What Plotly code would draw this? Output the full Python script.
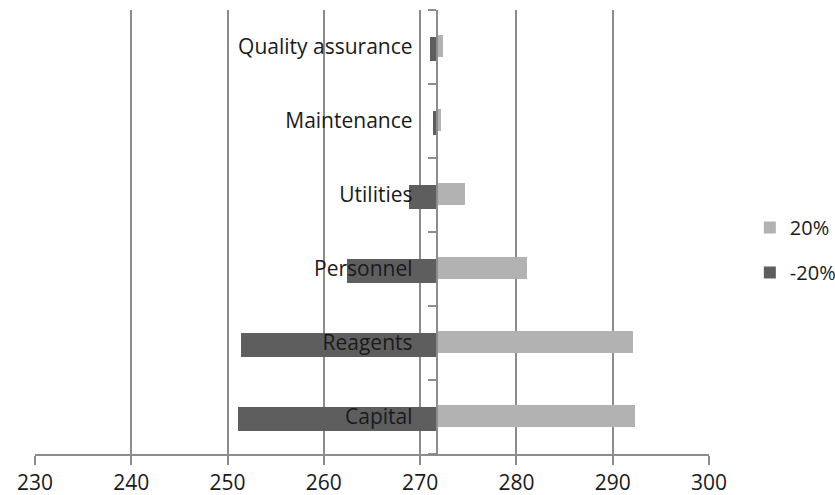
import plotly.graph_objects as go

# Sensitivity of cost to a +/-20% change in each input
categories = ["Capital", "Reagents", "Personnel", "Utilities", "Maintenance", "Quality assurance"]
plus_20 = [292.3, 292.1, 281.1, 274.7, 272.2, 272.4]
minus_20 = [251.1, 251.4, 262.4, 268.8, 271.3, 271.0]
base_value = 271.7
x_ticks = [230, 240, 250, 260, 270, 280, 290, 300]

x_min, x_max = 230, 300
font_family = "Open Sans, Noto Sans, sans-serif"
grid_col = "#8c8c8c"

fig = go.Figure()
fig.add_trace(go.Bar(
    y=categories, x=[v - base_value for v in plus_20], base=base_value,
    orientation="h", name="20%", marker=dict(color="#b2b2b2", line=dict(width=0)),
    width=0.30, offset=-0.14, legendgroup="a",
))
fig.add_trace(go.Bar(
    y=categories, x=[v - base_value for v in minus_20], base=base_value,
    orientation="h", name="-20%", marker=dict(color="#5e5e5e", line=dict(width=0)),
    width=0.32, offset=-0.19, legendgroup="b",
))

fig.update_layout(
    width=835, height=495,
    margin=dict(l=35, r=126, t=10, b=41),
    paper_bgcolor="white", plot_bgcolor="white",
    barmode="overlay",
    font=dict(family=font_family, size=21, color="#1a1a1a"),
    xaxis=dict(
        range=[x_min, x_max], tickvals=x_ticks, ticktext=[str(t) for t in x_ticks],
        showgrid=True, gridcolor=grid_col, gridwidth=1.5,
        showline=True, linecolor=grid_col, linewidth=1.5,
        ticks="outside", ticklen=9, tickcolor=grid_col, tickwidth=1.5,
        zeroline=False, fixedrange=True, automargin=False,
    ),
    yaxis=dict(
        type="category", categoryorder="array", categoryarray=categories,
        anchor="free", position=(base_value - x_min) / (x_max - x_min),
        showline=True, linecolor=grid_col, linewidth=1.5,
        ticks="outside", tickson="boundaries", ticklen=8, tickcolor=grid_col, tickwidth=1.5,
        ticklabelstandoff=19,
        showgrid=False, zeroline=False, fixedrange=True, automargin=False,
    ),
    legend=dict(
        xref="container", yref="container",
        x=0.898, xanchor="left", y=0.495, yanchor="middle",
        traceorder="grouped", tracegroupgap=16,
        font=dict(size=20), bgcolor="rgba(0,0,0,0)",
    ),
    bargap=0,
)

fig.write_html("out.html")
